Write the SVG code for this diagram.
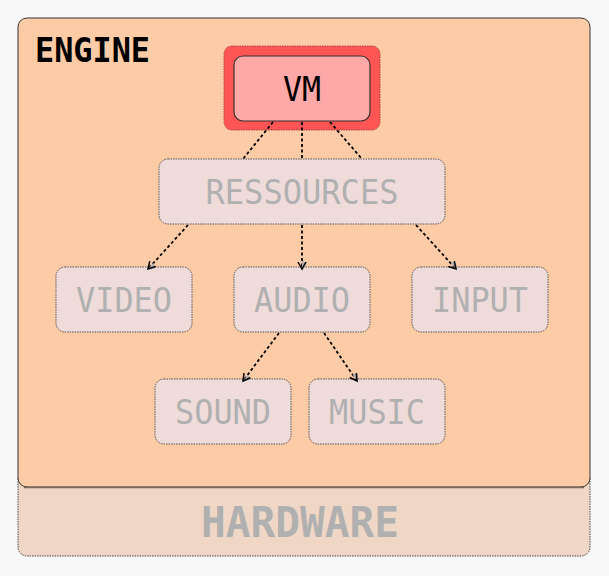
<svg xmlns="http://www.w3.org/2000/svg" width="609" height="576" viewBox="0 0 609 576">
<defs>
<style>
.node{fill:#efdcda;stroke:#555;stroke-width:1;stroke-dasharray:1.5,1}
.lbl{font-family:"DejaVu Sans Mono",monospace;font-size:33px;fill:#b0b0b0;text-anchor:middle}
.conn{stroke:#000;stroke-width:1.8;stroke-dasharray:3,2.5;fill:none}
</style>
<marker id="arr" viewBox="0 0 12 12" refX="10" refY="6" markerWidth="12" markerHeight="12" markerUnits="userSpaceOnUse" orient="auto">
<path d="M2,6 L12,6 L4,1 Z" fill="#b0b0b0"/>
<path d="M3,2 L10,6 L3,10" fill="none" stroke="#000" stroke-width="1.5"/>
</marker>
</defs>
<rect width="609" height="576" fill="#f8f8f8"/>
<g id="hardware">
<rect x="18" y="470" width="572" height="86" rx="9" fill="#f0d7c5" stroke="#444" stroke-width="1" stroke-dasharray="1.5,1"/>
<text x="300" y="537" font-family="DejaVu Sans Mono,monospace" font-weight="bold" font-size="42" fill="#b0b0b0" text-anchor="middle" textLength="198" lengthAdjust="spacingAndGlyphs">HARDWARE</text>
</g>
<g id="engine">
<rect x="18" y="18" width="572" height="469" rx="9" fill="#fdcba6" stroke="#333" stroke-width="1"/>
<line x1="24" y1="487.5" x2="584" y2="487.5" stroke="#7a6a5e" stroke-width="1.5"/>
<text x="35" y="62" font-family="DejaVu Sans Mono,monospace" font-weight="bold" font-size="33" fill="#000" textLength="115" lengthAdjust="spacingAndGlyphs">ENGINE</text>
</g>
<g id="vm">
<rect x="224" y="46" width="156" height="84" rx="8" fill="#ff5555" stroke="#b04040" stroke-width="1" stroke-dasharray="1.5,1"/>
<rect x="234" y="56" width="136" height="65" rx="9" fill="#ffa8a8" stroke="#333" stroke-width="1.2"/>
<text x="302" y="101" font-family="DejaVu Sans Mono,monospace" font-size="33" fill="#000" text-anchor="middle" textLength="38" lengthAdjust="spacingAndGlyphs">VM</text>
</g>
<g id="ressources">
<rect class="node" x="159" y="159" width="286" height="65" rx="9"/>
<text class="lbl" x="302" y="204" textLength="193" lengthAdjust="spacingAndGlyphs">RESSOURCES</text>
</g>
<g id="video">
<rect class="node" x="56" y="267" width="136" height="65" rx="9"/>
<text class="lbl" x="124" y="312" textLength="96" lengthAdjust="spacingAndGlyphs">VIDEO</text>
</g>
<g id="audio">
<rect class="node" x="234" y="267" width="136" height="65" rx="9"/>
<text class="lbl" x="302" y="312" textLength="96" lengthAdjust="spacingAndGlyphs">AUDIO</text>
</g>
<g id="input">
<rect class="node" x="412" y="267" width="136" height="65" rx="9"/>
<text class="lbl" x="480" y="312" textLength="96" lengthAdjust="spacingAndGlyphs">INPUT</text>
</g>
<g id="sound">
<rect class="node" x="155" y="379" width="136" height="65" rx="9"/>
<text class="lbl" x="223" y="424" textLength="96" lengthAdjust="spacingAndGlyphs">SOUND</text>
</g>
<g id="music">
<rect class="node" x="309" y="379" width="136" height="65" rx="9"/>
<text class="lbl" x="377" y="424" textLength="96" lengthAdjust="spacingAndGlyphs">MUSIC</text>
</g>
<g id="connectors">
<line class="conn" x1="273" y1="122" x2="243" y2="159"/>
<line class="conn" x1="302" y1="122" x2="302" y2="159"/>
<line class="conn" x1="330" y1="122" x2="362" y2="159"/>
<line class="conn" x1="188" y1="225" x2="148" y2="269" marker-end="url(#arr)"/>
<line class="conn" x1="302" y1="225" x2="302" y2="269" marker-end="url(#arr)"/>
<line class="conn" x1="416" y1="225" x2="456" y2="269" marker-end="url(#arr)"/>
<line class="conn" x1="279" y1="333" x2="243" y2="381" marker-end="url(#arr)"/>
<line class="conn" x1="324" y1="333" x2="357" y2="381" marker-end="url(#arr)"/>
</g>
</svg>
